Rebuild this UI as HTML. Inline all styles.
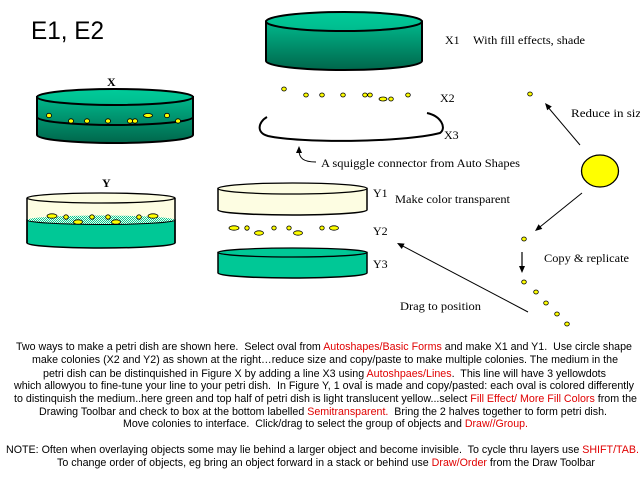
<!DOCTYPE html>
<html><head><meta charset="utf-8"><style>
html,body{margin:0;padding:0;background:#fff;width:640px;height:480px;overflow:hidden}
svg{display:block}
.s{font-family:"Liberation Serif",serif;font-size:12px;fill:#000}
.t{font-family:"Liberation Sans",sans-serif;font-size:11px;fill:#000;white-space:pre}
.r{fill:#e00000}
</style></head><body>
<svg width="640" height="480" viewBox="0 0 640 480" xmlns="http://www.w3.org/2000/svg" xml:space="preserve">
<defs>
<linearGradient id="body" x1="0" y1="0" x2="0" y2="1">
<stop offset="0" stop-color="#00b88c"/><stop offset="1" stop-color="#00664b"/>
</linearGradient>
<linearGradient id="topf" x1="0" y1="0" x2="0" y2="1">
<stop offset="0" stop-color="#00cc9a"/><stop offset="1" stop-color="#00bb8e"/>
</linearGradient>
<pattern id="chk" width="2" height="2" patternUnits="userSpaceOnUse">
<rect width="2" height="2" fill="#f4fbe8"/><rect width="1" height="1" fill="#00c896"/><rect x="1" y="1" width="1" height="1" fill="#00c896"/>
</pattern>
</defs>

<text x="31" y="39" font-family="Liberation Sans, sans-serif" font-size="25" textLength="73" lengthAdjust="spacingAndGlyphs">E1, E2</text>

<!-- X1 -->
<path d="M266 21.5 L266 61 A78 9 0 0 0 422 61 L422 21.5 Z" fill="url(#body)" stroke="#000" stroke-width="2"/>
<ellipse cx="344" cy="21.5" rx="78" ry="9.5" fill="url(#topf)" stroke="#000" stroke-width="2"/>
<text class="s" x="445" y="44">X1</text>
<text class="s" x="473" y="44" textLength="112" lengthAdjust="spacingAndGlyphs">With fill effects, shade</text>

<!-- X dish -->
<text class="s" x="107" y="86" font-weight="bold">X</text>
<path d="M37 97 L37 135 A78 8 0 0 0 193 135 L193 97 Z" fill="url(#body)" stroke="#000" stroke-width="2"/>
<path d="M37 117 A78 8 0 0 0 193 117" fill="none" stroke="#000" stroke-width="2"/>
<ellipse cx="115" cy="97" rx="78" ry="8" fill="url(#topf)" stroke="#000" stroke-width="2"/>
<g fill="#ffff00" stroke="#000" stroke-width="0.8">
<ellipse cx="49" cy="115.5" rx="2.5" ry="2.2"/><ellipse cx="71" cy="121" rx="2.5" ry="2.2"/>
<ellipse cx="87" cy="121" rx="2.5" ry="2.2"/><ellipse cx="108" cy="121" rx="2.5" ry="2.2"/>
<ellipse cx="130" cy="121" rx="2.5" ry="2.2"/><ellipse cx="135" cy="121" rx="2.5" ry="2.2"/>
<ellipse cx="148" cy="115.5" rx="4.5" ry="2"/><ellipse cx="167" cy="115.5" rx="2.5" ry="2.2"/>
<ellipse cx="178" cy="121" rx="2.5" ry="2.2"/>
</g>

<!-- X2 colonies -->
<g fill="#ffff00" stroke="#000" stroke-width="0.8">
<ellipse cx="284" cy="89" rx="2.3" ry="2"/><ellipse cx="306" cy="95" rx="2.3" ry="2"/>
<ellipse cx="322" cy="95" rx="2.3" ry="2"/><ellipse cx="343" cy="95" rx="2.3" ry="2"/>
<ellipse cx="365" cy="95" rx="2.3" ry="2"/><ellipse cx="370" cy="95" rx="2.3" ry="2"/>
<ellipse cx="383" cy="99" rx="4" ry="2"/><ellipse cx="391" cy="99" rx="2.3" ry="2"/>
<ellipse cx="408" cy="95" rx="2.3" ry="2"/>
<ellipse cx="530" cy="94" rx="2.3" ry="2"/>
</g>
<text class="s" x="440" y="102">X2</text>

<!-- X3 squiggle -->
<path d="M267 117 C258 122 256 133 268 136 C300 143 400 143 440 133 C447 128 441 116 427 113" fill="none" stroke="#000" stroke-width="2"/>
<text class="s" x="444" y="139">X3</text>
<path d="M299 150 C299 158 303 162 316 162" fill="none" stroke="#000" stroke-width="1"/>
<polygon points="299,146 296,153 302,153" fill="#000"/>
<text class="s" x="321" y="167" textLength="199" lengthAdjust="spacingAndGlyphs">A squiggle connector from Auto Shapes</text>

<!-- Reduce arrow -->
<line x1="580" y1="145" x2="547" y2="106" stroke="#000" stroke-width="1"/>
<polygon points="545,103 551.8,106.5 547.2,110.3" fill="#000"/>
<text class="s" x="571" y="117" textLength="76" lengthAdjust="spacingAndGlyphs">Reduce in size</text>

<!-- yellow circle -->
<ellipse cx="600" cy="171" rx="18.5" ry="16" fill="#ffff00" stroke="#000" stroke-width="1.3"/>

<!-- Y dish -->
<text class="s" x="102" y="187" font-weight="bold">Y</text>
<path d="M27 220 L27 243 A74 5 0 0 0 175 243 L175 220 Z" fill="#00c896" stroke="#000" stroke-width="1.5"/>
<path d="M27 198 L27 220 L175 220 L175 198 Z" fill="#fdfde2" stroke="none"/>
<ellipse cx="101" cy="220" rx="74" ry="4.5" fill="url(#chk)"/>
<path d="M27 220 A74 4.5 0 0 0 175 220" fill="none" stroke="#000" stroke-width="1"/>
<line x1="27" y1="198" x2="27" y2="243" stroke="#000" stroke-width="1.5"/>
<line x1="175" y1="198" x2="175" y2="243" stroke="#000" stroke-width="1.5"/>
<ellipse cx="101" cy="198" rx="74" ry="5" fill="#fdfde2" stroke="#000" stroke-width="1.3"/>
<g fill="#ffff00" stroke="#000" stroke-width="0.8">
<ellipse cx="52" cy="216" rx="5" ry="2.2"/><ellipse cx="66" cy="217" rx="2.3" ry="2.2"/>
<ellipse cx="78" cy="222" rx="4.5" ry="2.2"/><ellipse cx="92" cy="217" rx="2.3" ry="2.2"/>
<ellipse cx="108" cy="217" rx="2.3" ry="2.2"/><ellipse cx="116" cy="222" rx="4.5" ry="2.2"/>
<ellipse cx="139" cy="217" rx="2.3" ry="2.2"/><ellipse cx="153" cy="216" rx="5" ry="2.2"/>
</g>

<!-- Y1 -->
<path d="M218 188.5 L218 210 A74.5 5 0 0 0 367 210 L367 188.5 Z" fill="#fdfde2" stroke="#000" stroke-width="1.5"/>
<ellipse cx="292.5" cy="188.5" rx="74.5" ry="5.5" fill="#fdfde2" stroke="#000" stroke-width="1.3"/>
<text class="s" x="373" y="197">Y1</text>
<text class="s" x="395" y="203" textLength="115" lengthAdjust="spacingAndGlyphs">Make color transparent</text>

<!-- Y2 colonies -->
<g fill="#ffff00" stroke="#000" stroke-width="0.8">
<ellipse cx="234" cy="228" rx="5" ry="2.2"/><ellipse cx="247" cy="228" rx="2.2" ry="2.2"/>
<ellipse cx="259" cy="233" rx="4.5" ry="2.2"/><ellipse cx="274" cy="228" rx="2.2" ry="2"/>
<ellipse cx="289" cy="228" rx="2.2" ry="2"/><ellipse cx="298" cy="233" rx="4.5" ry="2.2"/>
<ellipse cx="322" cy="228" rx="2.2" ry="2"/><ellipse cx="334" cy="228" rx="4.5" ry="2.2"/>
</g>
<text class="s" x="373" y="235">Y2</text>

<!-- Y3 -->
<path d="M218 252.5 L218 273 A74.5 5 0 0 0 367 273 L367 252.5 Z" fill="#00c896" stroke="#000" stroke-width="1.5"/>
<ellipse cx="292.5" cy="252.5" rx="74.5" ry="4.5" fill="#00c896" stroke="#000" stroke-width="1.3"/>
<text class="s" x="373" y="268">Y3</text>

<!-- copy arrows -->
<line x1="582" y1="193" x2="538" y2="228.5" stroke="#000" stroke-width="1"/>
<polygon points="535,231 538.6,224.3 542.3,228.9" fill="#000"/>
<line x1="522" y1="252" x2="522" y2="267" stroke="#000" stroke-width="1.2"/>
<polygon points="522,273 519,266 525,266" fill="#000"/>
<text class="s" x="544" y="262" textLength="85" lengthAdjust="spacingAndGlyphs">Copy &amp; replicate</text>
<g fill="#ffff00" stroke="#000" stroke-width="0.8">
<ellipse cx="524" cy="239" rx="2.3" ry="2"/><ellipse cx="524" cy="282" rx="2.3" ry="2"/>
<ellipse cx="536" cy="292" rx="2.3" ry="2"/><ellipse cx="546" cy="303" rx="2.3" ry="2"/>
<ellipse cx="557" cy="314" rx="2.3" ry="2"/><ellipse cx="567" cy="324" rx="2.3" ry="2"/>
</g>
<line x1="528" y1="312" x2="400" y2="244.6" stroke="#000" stroke-width="1"/>
<polygon points="397,243 404.6,243.6 401.8,249" fill="#000"/>
<text class="s" x="400" y="310" textLength="81" lengthAdjust="spacingAndGlyphs">Drag to position</text>

<!-- paragraph -->
<text class="t" x="16" y="350" textLength="616" lengthAdjust="spacingAndGlyphs">Two ways to make a petri dish are shown here.  Select oval from <tspan class="r">Autoshapes/Basic Forms</tspan> and make X1 and Y1.  Use circle shape</text>
<text class="t" x="32" y="363" textLength="586" lengthAdjust="spacingAndGlyphs">make colonies (X2 and Y2) as shown at the right…reduce size and copy/paste to make multiple colonies. The medium in the</text>
<text class="t" x="43" y="377" textLength="563" lengthAdjust="spacingAndGlyphs">petri dish can be distinquished in Figure X by adding a line X3 using <tspan class="r">Autoshpaes/Lines</tspan>.  This line will have 3 yellowdots</text>
<text class="t" x="14" y="389" textLength="620" lengthAdjust="spacingAndGlyphs">which allowyou to fine-tune your line to your petri dish.  In Figure Y, 1 oval is made and copy/pasted: each oval is colored differently</text>
<text class="t" x="14" y="402" textLength="623" lengthAdjust="spacingAndGlyphs">to distinquish the medium..here green and top half of petri dish is light translucent yellow...select <tspan class="r">Fill Effect/ More Fill Colors</tspan> from the</text>
<text class="t" x="39" y="415" textLength="568" lengthAdjust="spacingAndGlyphs">Drawing Toolbar and check to box at the bottom labelled <tspan class="r">Semitransparent.</tspan>  Bring the 2 halves together to form petri dish.</text>
<text class="t" x="123" y="427" textLength="405" lengthAdjust="spacingAndGlyphs">Move colonies to interface.  Click/drag to select the group of objects and <tspan class="r">Draw//Group.</tspan></text>
<text class="t" x="6" y="453" textLength="633" lengthAdjust="spacingAndGlyphs">NOTE: Often when overlaying objects some may lie behind a larger object and become invisible.  To cycle thru layers use <tspan class="r">SHIFT/TAB.</tspan></text>
<text class="t" x="57" y="466" textLength="538" lengthAdjust="spacingAndGlyphs">To change order of objects, eg bring an object forward in a stack or behind use <tspan class="r">Draw/Order</tspan> from the Draw Toolbar</text>
</svg>
</body></html>
